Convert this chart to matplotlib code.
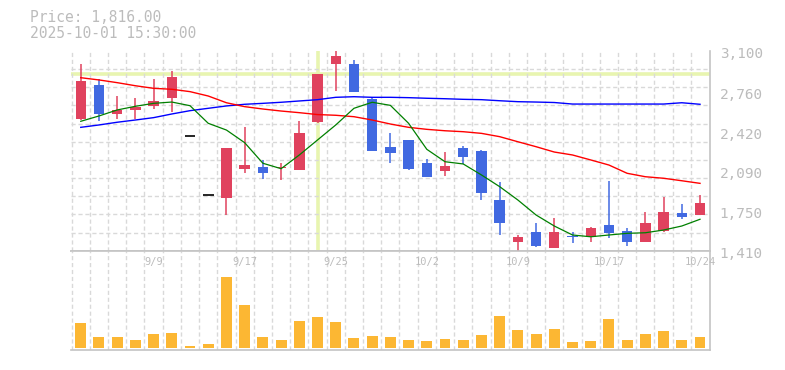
import numpy as np
import matplotlib
matplotlib.use('Agg')
import matplotlib.pyplot as plt
from matplotlib.ticker import FixedLocator
from matplotlib.transforms import blended_transform_factory, ScaledTranslation

# 日足データ
dates = ['9/3', '9/4', '9/5', '9/8', '9/9', '9/10', '9/11', '9/12', '9/16', '9/17',
         '9/18', '9/19', '9/22', '9/24', '9/25', '9/26', '9/29', '9/30', '10/1', '10/2',
         '10/3', '10/6', '10/7', '10/8', '10/9', '10/10', '10/14', '10/15', '10/16', '10/17',
         '10/20', '10/21', '10/22', '10/23', '10/24']
opens = [2524, 2812, 2569, 2603, 2637, 2705, 2378, 1879, 1858, 2104,
         2118, 2107, 2095, 2502, 2993, 2990, 2694, 2288, 2347, 2152,
         2087, 2279, 2254, 1839, 1486, 1568, 1435, 1531, 1528, 1627,
         1577, 1486, 1579, 1729, 1715]
highs = [2990, 2860, 2719, 2702, 2863, 2931, 2378, 1879, 2279, 2457,
         2178, 2152, 2508, 2905, 3100, 3024, 2708, 2406, 2347, 2186,
         2245, 2296, 2262, 1989, 1543, 1644, 1687, 1568, 1608, 2000,
         1600, 1737, 1864, 1805, 1881]
lows = [2516, 2510, 2525, 2525, 2609, 2586, 2378, 1879, 1715, 2070,
        2019, 2011, 2095, 2491, 2764, 2756, 2256, 2155, 2095, 2036,
        2045, 2144, 1842, 1545, 1410, 1444, 1433, 1473, 1481, 1515,
        1452, 1486, 1566, 1681, 1715]
closes = [2846, 2569, 2603, 2626, 2677, 2880, 2378, 1879, 2279, 2135,
          2070, 2118, 2406, 2905, 3058, 2756, 2256, 2239, 2104, 2036,
          2127, 2205, 1901, 1647, 1526, 1452, 1568, 1524, 1602, 1557,
          1486, 1644, 1737, 1698, 1816]
ma_short = [2505, 2550, 2601, 2632, 2657, 2668, 2637, 2488, 2431, 2324,
            2150, 2104, 2220, 2347, 2474, 2615, 2666, 2640, 2488, 2268,
            2163, 2144, 2051, 1952, 1839, 1712, 1619, 1543, 1528, 1543,
            1557, 1562, 1585, 1619, 1676]
ma_mid = [2874, 2855, 2832, 2806, 2784, 2776, 2756, 2719, 2662, 2629,
          2609, 2592, 2578, 2562, 2556, 2544, 2516, 2482, 2454, 2437,
          2425, 2417, 2403, 2375, 2332, 2290, 2245, 2220, 2178, 2135,
          2065, 2036, 2023, 2002, 1980]
ma_long = [2454, 2474, 2497, 2516, 2536, 2567, 2595, 2615, 2635, 2649,
           2657, 2666, 2677, 2688, 2708, 2713, 2708, 2708, 2705, 2700,
           2696, 2691, 2688, 2679, 2671, 2668, 2664, 2651, 2651, 2651,
           2651, 2651, 2651, 2662, 2649]
volume = [25.0, 10.7, 10.7, 7.7, 13.7, 14.7, 1.7, 3.7, 70.7, 42.7,
          10.7, 7.7, 26.7, 30.7, 25.7, 9.7, 11.7, 10.7, 7.7, 6.7,
          8.7, 7.7, 12.7, 31.7, 17.7, 13.7, 18.7, 5.7, 6.7, 28.7,
          7.7, 13.7, 16.7, 7.7, 10.7]
price_ticks = [1410, 1750, 2090, 2420, 2760, 3100]
date_labels = ['9/9', '9/17', '9/25', '10/2', '10/9', '10/17', '10/24']
cross_date = '9/24'
cross_price = 2903

plt.rcParams['font.family'] = 'DejaVu Sans Mono'

UP = '#e0425e'
DOWN = '#4169e1'
GRID = '#d9d9d9'
BORDER = '#c4c4c4'
TXT = '#bcbcbc'

fig = plt.figure(figsize=(7.85, 3.7), dpi=100)
ax = fig.add_axes([0.0901, 0.3224, 0.8144, 0.5398])
axv = fig.add_axes([0.0901, 0.0549, 0.8144, 0.2675])

x = np.arange(len(dates))
xlim = (-0.55, len(dates) - 0.45)

# ローソク足
for i in x:
    o, h, l, c = opens[i], highs[i], lows[i], closes[i]
    if c == o:
        ax.hlines(c, i - 0.3, i + 0.3, color='black', lw=1.2, zorder=3)
        continue
    col = UP if c > o else DOWN
    ax.vlines(i, l, h, color=col, lw=1.1, zorder=3)
    ax.bar(i, abs(c - o), bottom=min(o, c), width=0.57, color=col, zorder=3)

ax.plot(x, ma_long, color='#0000ff', lw=1.0, zorder=4)
ax.plot(x, ma_mid, color='#ff0000', lw=1.0, zorder=4)
ax.plot(x, ma_short, color='#008000', lw=0.9, zorder=4)

# クロスヘア
ax.axvline(dates.index(cross_date), color='#e8f5b0', lw=2.6, zorder=1.5)
ax.axhline(cross_price, color='#e8f5b0', lw=2.6, zorder=1.5)

ax.set_xlim(*xlim)
ax.set_ylim(1410, 3100)
ax.yaxis.tick_right()
ax.set_yticks(price_ticks)
ax.set_yticklabels(['{:,}'.format(v) for v in price_ticks])
ax.set_xticks([])
ax.xaxis.set_minor_locator(FixedLocator(x - 0.5))
ax.yaxis.set_minor_locator(FixedLocator(np.linspace(1410, 3100, 12)))
ax.grid(which='minor', color=GRID, linestyle=(0, (3, 2)), lw=1.0, zorder=0)
ax.tick_params(axis='both', which='both', length=0)
ax.tick_params(axis='y', pad=7, labelsize=10.4, labelcolor=TXT)
shift = ScaledTranslation(0, -0.02, fig.dpi_scale_trans)
for lbl in ax.get_yticklabels():
    lbl.set_transform(lbl.get_transform() + shift)
for s in ['top', 'left']:
    ax.spines[s].set_visible(False)
for s in ['right', 'bottom']:
    ax.spines[s].set_color(BORDER)
    ax.spines[s].set_linewidth(1.2)

# 出来高
axv.bar(x, volume, width=0.6, color='#fcb733', zorder=2)
axv.set_xlim(*xlim)
axv.set_ylim(-2, 97)
axv.set_xticks([])
axv.set_yticks([])
axv.xaxis.set_minor_locator(FixedLocator(x - 0.5))
axv.grid(which='minor', axis='x', color=GRID, linestyle=(0, (3, 2)), lw=1.0, zorder=0)
axv.tick_params(which='both', length=0)
axv.spines['left'].set_visible(False)
for s in ['top', 'bottom', 'right']:
    axv.spines[s].set_color(BORDER)
    axv.spines[s].set_linewidth(1.2)

trans = blended_transform_factory(axv.transData, axv.transAxes)
for lab in date_labels:
    axv.text(dates.index(lab), 0.89, lab, transform=trans, ha='center', va='center',
             fontsize=7.5, color=TXT, zorder=3)

fig.text(30 / 785, 1 - 17.7 / 370, 'Price: 1,816.00', va='center', fontsize=10.5, color=TXT)
fig.text(30 / 785, 1 - 33.5 / 370, '2025-10-01 15:30:00', va='center', fontsize=10.5, color=TXT)

fig.savefig('out.png', dpi=100)
